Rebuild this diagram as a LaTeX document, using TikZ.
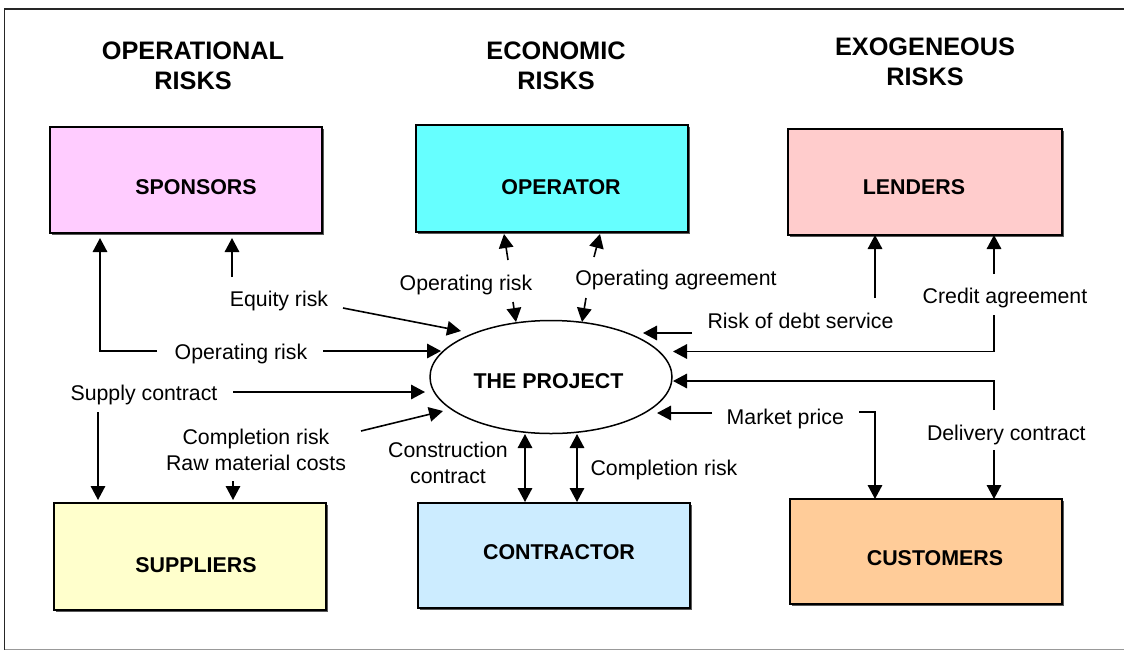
\documentclass[tikz,border=0pt]{standalone}
\usepackage{fontspec}
\setmainfont{Liberation Sans}
\usetikzlibrary{arrows.meta,shapes.geometric,shadows}
\definecolor{cSpons}{RGB}{255,204,255}
\definecolor{cOper}{RGB}{102,255,255}
\definecolor{cLend}{RGB}{255,204,204}
\definecolor{cSupp}{RGB}{255,255,204}
\definecolor{cContr}{RGB}{204,236,255}
\definecolor{cCust}{RGB}{255,204,153}
\begin{document}
\begin{tikzpicture}[x=1pt,y=-1pt,
  box/.style={draw=black, line width=1.5pt, inner sep=0pt,
    drop shadow={shadow xshift=1.8pt, shadow yshift=-1.8pt, fill=black!65, opacity=1}},
  boxtext/.style={font=\fontsize{21.4}{25}\selectfont\bfseries, inner sep=0pt,
    text height=15.3pt, text depth=0pt},
  header/.style={font=\fontsize{25.3}{30}\selectfont\bfseries, inner sep=0pt, align=center},
  lbl/.style={font=\fontsize{21.3}{26}\selectfont, inner sep=0pt,
    text height=15.25pt, text depth=0pt},
  lbl2/.style={font=\fontsize{21.3}{26}\selectfont, inner sep=0pt, align=center},
  arr/.style={line width=1.6pt, -{Triangle[length=14pt,width=14.5pt]}},
  darr/.style={line width=1.6pt, {Triangle[length=14pt,width=14.5pt]}-{Triangle[length=14pt,width=14.5pt]}},
]
\useasboundingbox (0,0) rectangle (1124,651);
% frame
\draw[black!85, line width=1.3pt] (1130,9) -- (4.5,9) -- (4.5,649.5);
\draw[black!40, line width=1.3pt] (4.5,649.5) -- (1130,649.5);

% headers
\node[header] (hOp) at (193,66) {OPERATIONAL\\RISKS};
\node[header] (hEc) at (556,66) {ECONOMIC\\RISKS};
\node[header] (hEx) at (925,62) {EXOGENEOUS\\RISKS};

% boxes
\node[box, fill=cSpons, minimum width=272pt, minimum height=106pt] (spons) at (186,180) {};
\node[box, fill=cOper, minimum width=272pt, minimum height=107pt] (oper) at (552,178.5) {};
\node[box, fill=cLend, minimum width=274pt, minimum height=106pt] (lend) at (925,182) {};
\node[box, fill=cSupp, minimum width=272pt, minimum height=107pt] (supp) at (190,556.5) {};
\node[box, fill=cContr, minimum width=272pt, minimum height=105pt] (contr) at (554,555.5) {};
\node[box, fill=cCust, minimum width=272pt, minimum height=105pt] (cust) at (926,551.5) {};

\node[boxtext] (tSpons) at (196,187) {SPONSORS};
\node[boxtext] (tOper) at (561,187) {OPERATOR};
\node[boxtext] (tLend) at (914,187) {LENDERS};
\node[boxtext] (tSupp) at (196,565) {SUPPLIERS};
\node[boxtext] (tContr) at (559,552) {CONTRACTOR};
\node[boxtext] (tCust) at (935,558) {CUSTOMERS};

% project
\node[draw, ellipse, line width=1.5pt, minimum width=242pt, minimum height=113pt, inner sep=0pt] (proj) at (551,377) {};
\node[boxtext] (tProj) at (548.5,380.5) {THE PROJECT};

% labels
\node[lbl] (lOpL) at (241,352) {Operating risk};
\node[lbl] (lEq) at (279,299) {Equity risk};
\node[lbl] (lSup) at (144,393) {Supply contract};
\node[lbl2] (lComp) at (256,449.5) {Completion risk\\Raw material costs};
\node[lbl] (lOpM) at (466,282.5) {Operating risk};
\node[lbl] (lOpA) at (676,278.3) {Operating agreement};
\node[lbl2] (lCons) at (448,463) {Construction\\contract};
\node[lbl] (lCompR) at (664,468) {Completion risk};
\node[lbl] (lDebt) at (800.5,321) {Risk of debt service};
\node[lbl] (lCred) at (1005,296) {Credit agreement};
\node[lbl] (lMkt) at (785.3,416.5) {Market price};
\node[lbl] (lDel) at (1006.3,432.5) {Delivery contract};

% connector end points
\coordinate (a1s) at (157,351);  \coordinate (a1c) at (100,351);  \coordinate (a1t) at (100,238);
\coordinate (a1b) at (323,351);  \coordinate (a1p) at (441,351);
\coordinate (a2s) at (232,277);  \coordinate (a2t) at (232,238);
\coordinate (a2b) at (343,308);  \coordinate (a2p) at (461,331);
\coordinate (a3s) at (233,392);  \coordinate (a3p) at (425,392);
\coordinate (a3b) at (98,412);   \coordinate (a3t) at (98,500);
\coordinate (a4s) at (361,431);  \coordinate (a4p) at (443,411);
\coordinate (a4b) at (233,481);  \coordinate (a4t) at (233,500);
\coordinate (a5s) at (508,260);  \coordinate (a5t) at (504,234);
\coordinate (a5b) at (513,302);  \coordinate (a5p) at (516,322);
\coordinate (a6s) at (594,257);  \coordinate (a6t) at (600,234);
\coordinate (a6b) at (586,298);  \coordinate (a6p) at (582,322);
\coordinate (a7s) at (692,333);  \coordinate (a7p) at (643,333);
\coordinate (a7b) at (875,298);  \coordinate (a7t) at (875,235);
\coordinate (a8s) at (994,274);  \coordinate (a8t) at (994,235);
\coordinate (a8b) at (994,315);  \coordinate (a8c) at (994,351.5); \coordinate (a8p) at (673,351.5);
\coordinate (a9s) at (994,410);  \coordinate (a9c) at (994,381);   \coordinate (a9p) at (673,381);
\coordinate (a9b) at (994,450);  \coordinate (a9t) at (994,499);
\coordinate (a10s) at (712,413); \coordinate (a10p) at (657,413);
\coordinate (a10b) at (859,412); \coordinate (a10c) at (875,412); \coordinate (a10t) at (875,499);
\coordinate (a11a) at (525,434); \coordinate (a11b) at (525,502);
\coordinate (a12a) at (577,434); \coordinate (a12b) at (577,502);

% connectors
\draw[arr] (a1s) -- (a1c) -- (a1t);
\draw[arr] (a1b) -- (a1p);
\draw[arr] (a2s) -- (a2t);
\draw[arr] (a2b) -- (a2p);
\draw[arr] (a3s) -- (a3p);
\draw[arr] (a3b) -- (a3t);
\draw[arr] (a4s) -- (a4p);
\draw[arr] (a4b) -- (a4t);
\draw[arr] (a5s) -- (a5t);
\draw[arr] (a5b) -- (a5p);
\draw[arr] (a6s) -- (a6t);
\draw[arr] (a6b) -- (a6p);
\draw[arr] (a7s) -- (a7p);
\draw[arr] (a7b) -- (a7t);
\draw[arr] (a8s) -- (a8t);
\draw[arr] (a8b) -- (a8c) -- (a8p);
\draw[arr] (a9s) -- (a9c) -- (a9p);
\draw[arr] (a9b) -- (a9t);
\draw[arr] (a10s) -- (a10p);
\draw[arr] (a10b) -- (a10c) -- (a10t);
\draw[darr] (a11a) -- (a11b);
\draw[darr] (a12a) -- (a12b);
\end{tikzpicture}
\end{document}
